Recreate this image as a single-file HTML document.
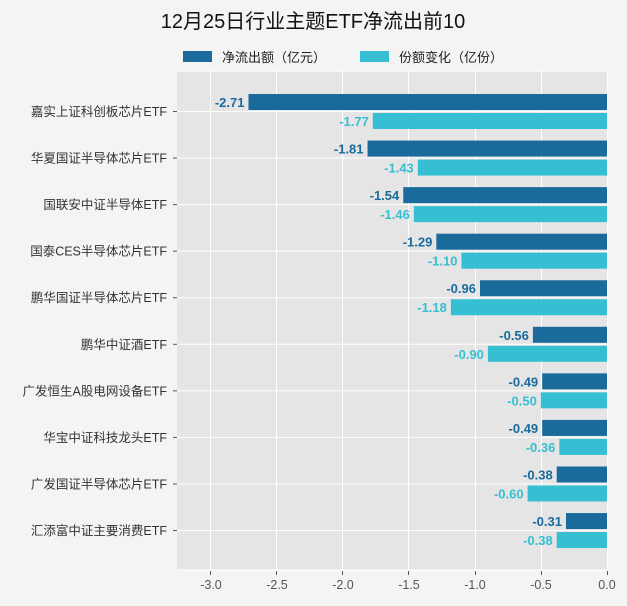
<!DOCTYPE html>
<html><head><meta charset="utf-8"><style>
body{margin:0;background:#f4f4f4;}
svg{display:block;font-family:"Liberation Sans","Noto Sans CJK SC",sans-serif;}
</style></head><body>
<svg width="627" height="606" xmlns="http://www.w3.org/2000/svg">
<rect width="627" height="606" fill="#f4f4f4"/>
<text x="313" y="28" text-anchor="middle" font-size="20" fill="#111">12月25日行业主题ETF净流出前10</text>
<rect x="183" y="51" width="29" height="11" fill="#1a6b9c"/>
<text x="222" y="62" font-size="13" fill="#222">净流出额（亿元）</text>
<rect x="360" y="51" width="29" height="11" fill="#36bfd2"/>
<text x="399" y="62" font-size="13" fill="#222">份额变化（亿份）</text>
<rect x="177" y="71" width="430" height="499" fill="#e5e5e5"/>
<g stroke="#fff" stroke-width="1">
<line x1="210.5" y1="71" x2="210.5" y2="570"/><line x1="276.5" y1="71" x2="276.5" y2="570"/>
<line x1="342.5" y1="71" x2="342.5" y2="570"/><line x1="408.5" y1="71" x2="408.5" y2="570"/>
<line x1="475.5" y1="71" x2="475.5" y2="570"/><line x1="541.5" y1="71" x2="541.5" y2="570"/>
<line x1="607.5" y1="71" x2="607.5" y2="570"/>
<line x1="177" y1="71" x2="607" y2="71"/><line x1="177" y1="570" x2="607" y2="570"/>
</g>
<g id="rows"></g>
<g font-size="12.5" fill="#555" text-anchor="middle">
<text x="211" y="589">-3.0</text><text x="277" y="589">-2.5</text><text x="343" y="589">-2.0</text>
<text x="409" y="589">-1.5</text><text x="475" y="589">-1.0</text><text x="541" y="589">-0.5</text><text x="607" y="589">0.0</text>
</g>
<g stroke="#555"><line x1="210.5" y1="571" x2="210.5" y2="575"/><line x1="276.5" y1="571" x2="276.5" y2="575"/><line x1="342.5" y1="571" x2="342.5" y2="575"/><line x1="408.5" y1="571" x2="408.5" y2="575"/><line x1="475.5" y1="571" x2="475.5" y2="575"/><line x1="541.5" y1="571" x2="541.5" y2="575"/><line x1="607.5" y1="571" x2="607.5" y2="575"/></g>
</svg>
<script>
const names=["嘉实上证科创板芯片ETF","华夏国证半导体芯片ETF","国联安中证半导体ETF","国泰CES半导体芯片ETF","鹏华国证半导体芯片ETF","鹏华中证酒ETF","广发恒生A股电网设备ETF","华宝中证科技龙头ETF","广发国证半导体芯片ETF","汇添富中证主要消费ETF"];
const a=[-2.71,-1.81,-1.54,-1.29,-0.96,-0.56,-0.49,-0.49,-0.38,-0.31];
const b=[-1.77,-1.43,-1.46,-1.10,-1.18,-0.90,-0.50,-0.36,-0.60,-0.38];
const g=document.getElementById('rows');let h='';
const X=v=>607+v*132.3;
for(let i=0;i<10;i++){const c=111+i*46.56;
h+=`<line x1="177" x2="607" y1="${c+0.5}" y2="${c+0.5}" stroke="#fff"/>`;
h+=`<line x1="173" x2="177" y1="${c+0.5}" y2="${c+0.5}" stroke="#555"/>`;
h+=`<rect x="${X(a[i])}" y="${c-17}" width="${607-X(a[i])}" height="16" fill="#1a6b9c"/>`;
h+=`<rect x="${X(b[i])}" y="${c+2}" width="${607-X(b[i])}" height="16" fill="#36bfd2"/>`;
h+=`<text x="${X(a[i])-4}" y="${c-4}" text-anchor="end" font-size="13" font-weight="bold" fill="#1a6b9c">${a[i].toFixed(2)}</text>`;
h+=`<text x="${X(b[i])-4}" y="${c+15}" text-anchor="end" font-size="13" font-weight="bold" fill="#36bfd2">${b[i].toFixed(2)}</text>`;
h+=`<text x="167" y="${c+5}" text-anchor="end" font-size="12.5" fill="#333">${names[i]}</text>`;}
g.innerHTML=h;
</script>
</body></html>
